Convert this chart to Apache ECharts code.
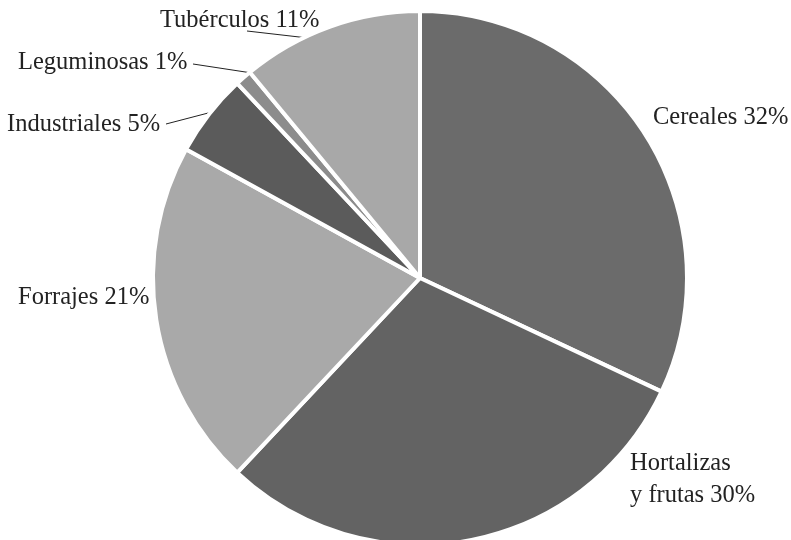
<!DOCTYPE html>
<html><head><meta charset="utf-8">
<script src="https://cdn.jsdelivr.net/npm/echarts@6/dist/echarts.min.js"></script>
<style>html,body{margin:0;padding:0;background:#fff}#c{width:791px;height:540px}</style>
</head><body><div id="c"></div>
<script>
const categories = ['Cereales', 'Hortalizas\ny frutas', 'Forrajes', 'Industriales', 'Leguminosas', 'Tubérculos'];
const values = [32, 30, 21, 5, 1, 11];
const colors = ['#6b6b6b', '#636363', '#a9a9a9', '#5b5b5b', '#8c8c8c', '#a8a8a8'];
// label anchor positions (left x, middle y)
const labelPos = [[653, 118], [630, 480], [18, 298], [7, 125], [18, 63], [160, 21]];
// leader line points (label side -> pie side), null = no line
const leaderLines = [null, null, null, [[166, 124], [212, 112]], [[193, 64], [252, 73]], [[247, 31], [308, 38]]];

const chart = echarts.init(document.getElementById('c'), null, {renderer: 'canvas'});
chart.setOption({
  animation: false,
  series: [{
    type: 'pie',
    center: [420, 278],
    radius: 267,
    startAngle: 90,
    clockwise: true,
    avoidLabelOverlap: false,
    itemStyle: {borderColor: '#fff', borderWidth: 4},
    label: {
      show: true, position: 'outside',
      fontFamily: 'Liberation Serif', fontSize: 24.5, color: '#222', lineHeight: 32,
      formatter: p => p.name + ' ' + p.value + '%'
    },
    labelLine: {show: true, length: 1, length2: 1, smooth: false, lineStyle: {color: '#222', width: 1}},
    labelLayout: function (params) {
      const i = params.dataIndex;
      const o = {x: labelPos[i][0], y: labelPos[i][1], align: 'left', verticalAlign: 'middle'};
      if (leaderLines[i]) o.labelLinePoints = [leaderLines[i][1], leaderLines[i][1], leaderLines[i][0]];
      return o;
    },
    data: categories.map((c, i) => ({
      name: c, value: values[i],
      itemStyle: {color: colors[i]},
      labelLine: {show: !!leaderLines[i]}
    }))
  }]
});
</script></body></html>
